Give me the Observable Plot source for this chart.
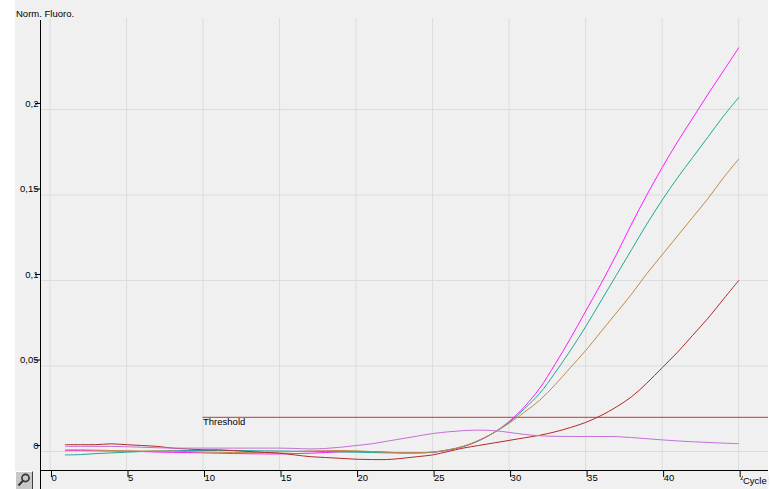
<!DOCTYPE html>
<html>
<head>
<meta charset="utf-8">
<script src="https://cdn.jsdelivr.net/npm/d3@7"></script>
<script src="https://cdn.jsdelivr.net/npm/@observablehq/plot@0.6"></script>
<style>
  html, body { margin: 0; padding: 0; background: #ffffff; }
  #wrap { position: relative; width: 771px; height: 489px; overflow: hidden; background: #ffffff;
          font-family: "Liberation Sans", Arial, sans-serif; font-size: 9.5px; color: #000; }
  #chart { position: absolute; left: 15px; top: 0; }
  #ylab { position: absolute; left: 16px; top: 8px; white-space: nowrap; }
  #xlab { position: absolute; left: 743px; top: 475px; background: #f0f0f0; padding: 0 2px 0 0; white-space: nowrap; }
  #tool { position: absolute; left: 15px; top: 471px; width: 18px; height: 18px; background: #c8c8c8;
          border-top: 1px solid #ffffff; border-left: 1px solid #ffffff; border-right: 1px solid #404040; box-sizing: border-box; }
</style>
</head>
<body>
<div id="wrap">
  <div id="chart"></div>
  <div id="ylab">Norm. Fluoro.</div>
  <div id="xlab">Cycle</div>
  <div id="tool"><svg width="16" height="16" viewBox="0 0 16 16"><circle cx="9.5" cy="6" r="3.6" fill="none" stroke="#303030" stroke-width="1.6"/><line x1="7" y1="8.6" x2="2.5" y2="13.5" stroke="#303030" stroke-width="2"/></svg></div>
</div>
<script>
// ---- data ----
const cycles = [1,2,3,4,5,6,7,8,9,10,11,12,13,14,15,16,17,18,19,20,21,22,23,24,25,26,27,28,29,30,31,32,33,34,35,36,37,38,39,40,41,42,43,44,45];

const seriesNames = ["A1", "A2", "A3", "A4", "A5"];
const seriesColors = ["#ff1aff", "#1fa896", "#c08a48", "#b22a2a", "#c46fd8"];

const magentaValues = [0.0005,0.0005,0.0004,0.0003,0.0002,0.0,-0.0003,-0.0005,-0.0006,-0.0008,-0.001,-0.0012,-0.0013,-0.0014,-0.0014,-0.0012,-0.001,-0.0006,-0.0002,0.0,0.0,-0.0004,-0.0008,-0.0008,-0.0005,0.0008,0.0028,0.0062,0.011,0.0175,0.0262,0.037,0.051,0.066,0.082,0.098,0.115,0.133,0.150,0.166,0.181,0.195,0.209,0.2225,0.236];
const tealValues = [-0.002,-0.0018,-0.0012,-0.0008,-0.0004,0.0,0.0003,0.0005,0.0006,0.0006,0.0006,0.0006,0.0005,0.0004,0.0003,0.0002,0.0001,0.0,-0.0002,-0.0004,-0.0006,-0.0008,-0.0009,-0.0008,-0.0004,0.0009,0.003,0.0063,0.011,0.017,0.025,0.034,0.046,0.059,0.073,0.088,0.103,0.118,0.133,0.147,0.160,0.172,0.184,0.196,0.207];
const tanValues = [0.001,0.001,0.0008,0.0006,0.0004,0.0003,0.0003,0.0002,0.0,-0.0003,-0.0005,-0.0006,-0.0006,-0.0005,-0.0003,0.0,0.0003,0.0005,0.0006,0.0004,0.0,-0.0004,-0.0007,-0.0007,-0.0003,0.001,0.003,0.0065,0.011,0.0165,0.023,0.030,0.039,0.049,0.059,0.070,0.081,0.092,0.104,0.115,0.126,0.137,0.148,0.160,0.171];
const darkRedValues = [0.004,0.004,0.004,0.0045,0.004,0.0035,0.003,0.002,0.0015,0.001,0.001,0.0005,0.0,-0.0005,-0.001,-0.002,-0.003,-0.0035,-0.004,-0.0045,-0.0047,-0.0047,-0.004,-0.003,-0.002,0.0,0.002,0.0035,0.005,0.0065,0.008,0.0095,0.0115,0.014,0.017,0.021,0.026,0.032,0.040,0.049,0.058,0.068,0.078,0.089,0.100];
const orchidValues = [0.003,0.003,0.003,0.003,0.0028,0.0025,0.0022,0.002,0.002,0.002,0.002,0.002,0.002,0.002,0.002,0.0018,0.0015,0.0018,0.0025,0.0035,0.0045,0.006,0.0075,0.009,0.0105,0.0115,0.0122,0.0125,0.0122,0.0112,0.0100,0.0092,0.0089,0.0088,0.0088,0.0088,0.0087,0.0082,0.0075,0.0068,0.0062,0.0057,0.0053,0.0049,0.0046];

const threshold = 0.02;
const thresholdStart = 10;
const thresholdLabel = "Threshold";

const xTicks = [0,5,10,15,20,25,30,35,40,45];
const yTicks = [0,0.05,0.1,0.15,0.2];
const xDomain = [-0.62, 46.95];
const yDomain = [-0.0111, 0.2532];

// ---- build table ----
const allSeries = [magentaValues, tealValues, tanValues, darkRedValues, orchidValues];
const rows = [];
allSeries.forEach((vals, i) => {
  vals.forEach((v, j) => rows.push({series: seriesNames[i], cycle: cycles[j], value: v}));
});

const commaFmt = d => String(d).replace(".", ",");

const chart = Plot.plot({
  width: 753,
  height: 489,
  marginLeft: 25,
  marginTop: 18,
  marginRight: 0,
  marginBottom: 19,
  style: {background: "#f0f0f0", fontFamily: "Liberation Sans, Arial, sans-serif", fontSize: "9.5px", color: "#000", overflow: "visible"},
  x: {domain: xDomain},
  y: {domain: yDomain},
  color: {domain: seriesNames, range: seriesColors},
  marks: [
    Plot.gridX(xTicks, {stroke: "#dcdcdc", strokeOpacity: 1}),
    Plot.gridY(yTicks, {stroke: "#dcdcdc", strokeOpacity: 1}),
    Plot.ruleY([threshold], {x1: thresholdStart, x2: xDomain[1], stroke: "#cc3333", strokeWidth: 1}),
    Plot.text([threshold], {x: thresholdStart, y: d => d, text: () => thresholdLabel, textAnchor: "start", lineAnchor: "top", dy: 1, fill: "#000"}),
    Plot.line(rows, {x: "cycle", y: "value", z: "series", stroke: "series", strokeWidth: 1, curve: "catmull-rom"}),
    Plot.ruleX([xDomain[0]], {stroke: "#000", insetTop: 2, insetBottom: -19}),
    Plot.ruleY([yDomain[0]], {stroke: "#000"}),
    Plot.axisX(xTicks, {tickSize: 7, tickPadding: -3, textAnchor: "start", dx: 1.5, label: null, stroke: "#000"}),
    Plot.axisY(yTicks, {tickSize: 5, tickPadding: -3, dy: -6, tickFormat: commaFmt, label: null, stroke: "#000"})
  ]
});
document.getElementById("chart").appendChild(chart);
</script>
</body>
</html>
